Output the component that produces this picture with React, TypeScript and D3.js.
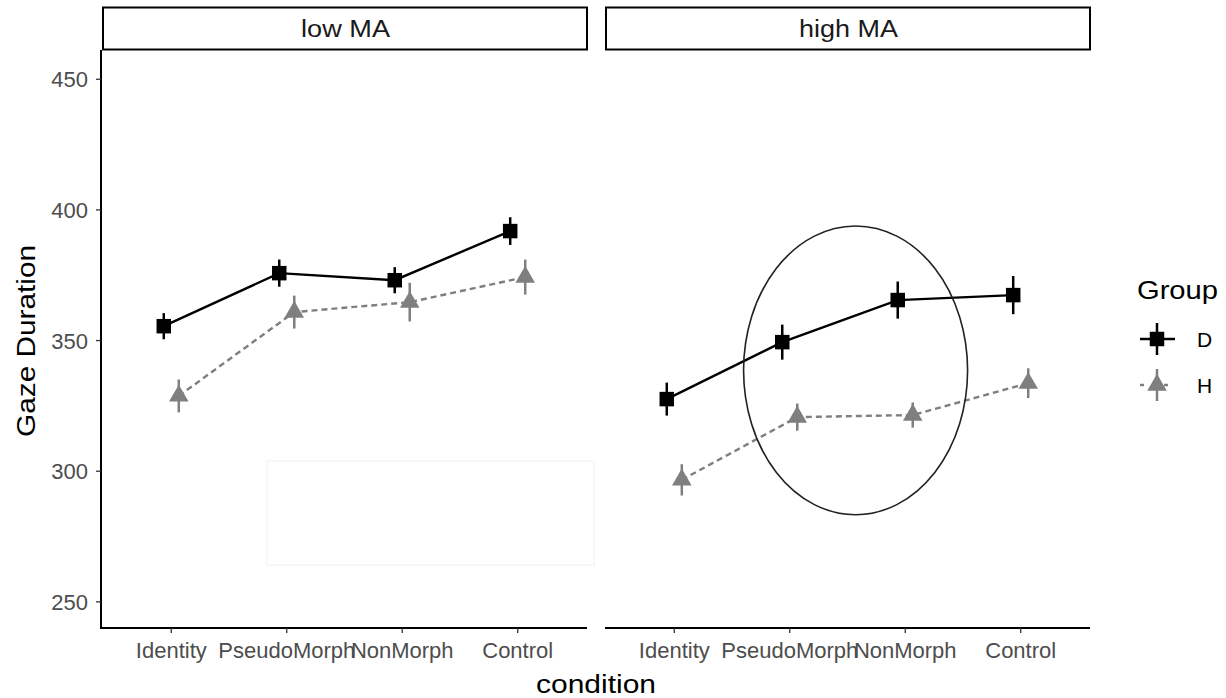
import React from 'react';
import * as d3 from 'd3';

const conditions = ['Identity', 'PseudoMorph', 'NonMorph', 'Control'];
const panels = ['low MA', 'high MA'];
const groups = ['D', 'H'];

// means and standard errors
const lowD = [355.5, 375.8, 373.1, 391.9];
const lowDse = [5, 5.2, 5, 5.3];
const lowH = [328.8, 360.9, 364.7, 374.3];
const lowHse = [6.3, 6.3, 7.4, 6.7];
const highD = [327.6, 349.4, 365.5, 367.4];
const highDse = [6.3, 6.7, 7.1, 7.3];
const highH = [296.7, 320.7, 321.5, 333.7];
const highHse = [6, 5.2, 4.8, 5.7];

const yTicks = [250, 300, 350, 400, 450];

// annotation ellipse on the high MA panel (condition index / value units)
const ellipse = { cx: 1.57, cy: 338.6, xHalf: 0.97, yTop: 393.8, yBottom: 283.3 };

const series = [
  { panel: 0, group: 'D', mean: lowD, se: lowDse },
  { panel: 0, group: 'H', mean: lowH, se: lowHse },
  { panel: 1, group: 'D', mean: highD, se: highDse },
  { panel: 1, group: 'H', mean: highH, se: highHse },
];

const W = 1226;
const H = 698;
const top = 50;
const bottom = 628;
const panelX = [[102, 587], [605, 1090]];
const font = '"Liberation Sans", Arial, sans-serif';
const styles: Record<string, { color: string; dash: string; dodge: number }> = {
  D: { color: '#000000', dash: '', dodge: -0.065 },
  H: { color: '#7f7f7f', dash: '6,4', dodge: 0.065 },
};

const square = d3.symbol(d3.symbolSquare, 210)();
const triangle = d3.symbol(d3.symbolTriangle, 165)();

export default function App() {
  const y = d3.scaleLinear().domain([240, 461.2]).range([bottom, top]);
  const xs = panelX.map(([a, b]) => d3.scaleLinear().domain([-0.6, 3.6]).range([a, b]));
  const line = (xScale: d3.ScaleLinear<number, number>, dodge: number) =>
    d3.line<number>().x((_, i) => xScale(i + dodge)).y(d => y(d));

  return (
    <svg width={W} height={H} style={{ position: 'absolute', left: 0, top: 0, background: '#fff' }} fontFamily={font}>
      {/* faint artifact box */}
      <rect x={267} y={461} width={327} height={104} fill="none" stroke="#f6f6f6" strokeWidth={1.5} />

      {/* strips */}
      {panels.map((p, i) => (
        <g key={p}>
          <rect x={panelX[i][0] + 1} y={7.5} width={panelX[i][1] - panelX[i][0] - 1} height={42} fill="#fff" stroke="#000" strokeWidth={2} />
          <text x={(panelX[i][0] + panelX[i][1]) / 2 + 1} y={37} textAnchor="middle" fontSize={23.5} fill="#1a1a1a"
            textLength={i === 0 ? 89 : 99} lengthAdjust="spacingAndGlyphs">{p}</text>
        </g>
      ))}

      {/* y axis */}
      <line x1={101} x2={101} y1={top} y2={bottom + 1} stroke="#000" strokeWidth={2} />
      {yTicks.map(t => (
        <g key={t}>
          <line x1={96} x2={101} y1={y(t)} y2={y(t)} stroke="#333" strokeWidth={1.3} />
          <text x={88} y={y(t) + 8} textAnchor="end" fontSize={22} fill="#4d4d4d">{t}</text>
        </g>
      ))}
      <text transform={`translate(35,341) rotate(-90)`} textAnchor="middle" fontSize={25} fill="#000"
        textLength={192} lengthAdjust="spacingAndGlyphs">Gaze Duration</text>

      {/* x axes */}
      {xs.map((xScale, pi) => (
        <g key={pi}>
          <line x1={panelX[pi][0]} x2={panelX[pi][1]} y1={bottom} y2={bottom} stroke="#000" strokeWidth={2} />
          {conditions.map((c, i) => (
            <g key={c}>
              <line x1={xScale(i)} x2={xScale(i)} y1={bottom} y2={bottom + 5} stroke="#333" strokeWidth={1.3} />
              <text x={xScale(i)} y={658} textAnchor="middle" fontSize={22} fill="#4d4d4d">{c}</text>
            </g>
          ))}
        </g>
      ))}
      <text x={596} y={693} textAnchor="middle" fontSize={26} fill="#000" textLength={120} lengthAdjust="spacingAndGlyphs">condition</text>

      {/* series */}
      {series.map((s, k) => {
        const st = styles[s.group];
        const xScale = xs[s.panel];
        return (
          <g key={k}>
            <path d={line(xScale, st.dodge)(s.mean) || ''} fill="none" stroke={st.color} strokeWidth={2.4} strokeDasharray={st.dash} />
            {s.mean.map((m, i) => (
              <g key={i}>
                <line x1={xScale(i + st.dodge)} x2={xScale(i + st.dodge)} y1={y(m - s.se[i])} y2={y(m + s.se[i])} stroke={st.color} strokeWidth={2.5} />
                <path d={s.group === 'D' ? square : triangle} transform={`translate(${xScale(i + st.dodge)},${y(m)})`} fill={st.color} />
              </g>
            ))}
          </g>
        );
      })}

      {/* ellipse annotation */}
      <ellipse
        cx={xs[1](ellipse.cx)}
        cy={y(ellipse.cy)}
        rx={xs[1](ellipse.cx + ellipse.xHalf) - xs[1](ellipse.cx)}
        ry={(y(ellipse.yBottom) - y(ellipse.yTop)) / 2}
        fill="none"
        stroke="#222"
        strokeWidth={1.6}
      />

      {/* legend */}
      <text x={1137} y={299} fontSize={26} fill="#000" textLength={81} lengthAdjust="spacingAndGlyphs">Group</text>
      {groups.map((g, i) => {
        const st = styles[g];
        const cy = 339 + i * 46;
        return (
          <g key={g}>
            <line x1={1140} x2={1175} y1={cy} y2={cy} stroke={st.color} strokeWidth={2.4} strokeDasharray={g === 'H' ? '4,8' : ''} />
            <line x1={1157} x2={1157} y1={cy - 16} y2={cy + 16} stroke={st.color} strokeWidth={2.5} />
            <path d={g === 'D' ? square : triangle} transform={`translate(1157,${cy})`} fill={st.color} />
            <text x={1197} y={cy + 8} fontSize={21} fill="#000">{g}</text>
          </g>
        );
      })}
    </svg>
  );
}
